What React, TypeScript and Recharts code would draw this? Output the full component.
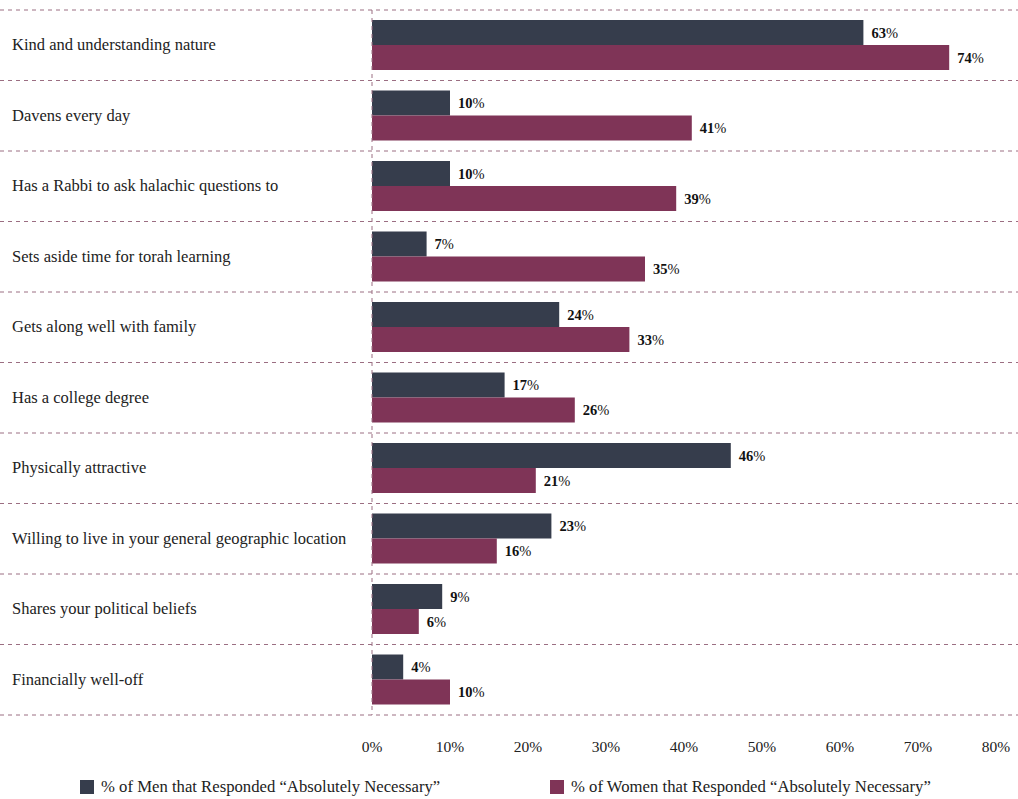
import React from "react";
import { BarChart, Bar, XAxis, YAxis, LabelList } from "recharts";

const categories = [
  "Kind and understanding nature",
  "Davens every day",
  "Has a Rabbi to ask halachic questions to",
  "Sets aside time for torah learning",
  "Gets along well with family",
  "Has a college degree",
  "Physically attractive",
  "Willing to live in your general geographic location",
  "Shares your political beliefs",
  "Financially well-off",
];
const menValues = [63, 10, 10, 7, 24, 17, 46, 23, 9, 4];
const womenValues = [74, 41, 39, 35, 33, 26, 21, 16, 6, 10];
const xTicks = [0, 10, 20, 30, 40, 50, 60, 70, 80];

const MEN_COLOR = "#363d4c";
const WOMEN_COLOR = "#7f3457";
const GRID_COLOR = "#9b6e82";
const FONT = "'Liberation Serif', 'DejaVu Serif', serif";

const W = 1018;
const H = 760;
const TOP = 10;
const PLOT_BOTTOM = 715;
const BAND = (PLOT_BOTTOM - TOP) / categories.length;

const data = categories.map((name, i) => ({
  name,
  men: menValues[i],
  women: womenValues[i],
}));

function CategoryTick(props: any) {
  const { y, payload, index } = props;
  const top = y - BAND / 2;
  return (
    <g>
      <line x1={0} x2={W} y1={top} y2={top} stroke={GRID_COLOR} strokeDasharray="4 4" />
      {index === categories.length - 1 && (
        <line x1={0} x2={W} y1={top + BAND} y2={top + BAND} stroke={GRID_COLOR} strokeDasharray="4 4" />
      )}
      <text x={12} y={y} dy={5} textAnchor="start" fill="#222" fontSize={16.5} fontFamily={FONT}>
        {payload.value}
      </text>
    </g>
  );
}

function ValueLabel(props: any) {
  const { x, y, width, height, value } = props;
  return (
    <text x={x + width + 8} y={y + height / 2} dy={5} fill="#111" fontSize={14.5} fontFamily={FONT}>
      <tspan fontWeight="bold">{value}</tspan>
      <tspan>%</tspan>
    </text>
  );
}

function LegendItem({ color, label, left }: { color: string; label: string; left: number }) {
  return (
    <div style={{ position: "absolute", left, top: 777, display: "flex", alignItems: "center" }}>
      <span style={{ width: 14, height: 14, background: color, display: "inline-block", marginRight: 7 }} />
      <span style={{ fontFamily: FONT, fontSize: 16.7, color: "#222" }}>{label}</span>
    </div>
  );
}

export default function App() {
  return (
    <div style={{ position: "absolute", left: 0, top: 0, width: W, height: 799, background: "#fff" }}>
      <BarChart
        width={W}
        height={H}
        data={data}
        layout="vertical"
        margin={{ top: TOP, right: 22, bottom: H - PLOT_BOTTOM - 30, left: 0 }}
        barCategoryGap={10}
        barGap={0}
      >
        <XAxis
          type="number"
          domain={[0, 80]}
          ticks={xTicks}
          tickFormatter={(v: number) => `${v}%`}
          axisLine={false}
          tickLine={false}
          tickMargin={20}
          height={30}
          tick={{ fill: "#222", fontSize: 15.5, fontFamily: FONT }}
        />
        <YAxis
          type="category"
          dataKey="name"
          width={372}
          tick={<CategoryTick />}
          tickLine={false}
          axisLine={{ stroke: GRID_COLOR, strokeDasharray: "4 4" }}
          interval={0}
        />
        <Bar dataKey="men" fill={MEN_COLOR} isAnimationActive={false}>
          <LabelList dataKey="men" content={<ValueLabel />} />
        </Bar>
        <Bar dataKey="women" fill={WOMEN_COLOR} isAnimationActive={false}>
          <LabelList dataKey="women" content={<ValueLabel />} />
        </Bar>
      </BarChart>
      <LegendItem color={MEN_COLOR} label="% of Men that Responded “Absolutely Necessary”" left={80} />
      <LegendItem color={WOMEN_COLOR} label="% of Women that Responded “Absolutely Necessary”" left={550} />
    </div>
  );
}
